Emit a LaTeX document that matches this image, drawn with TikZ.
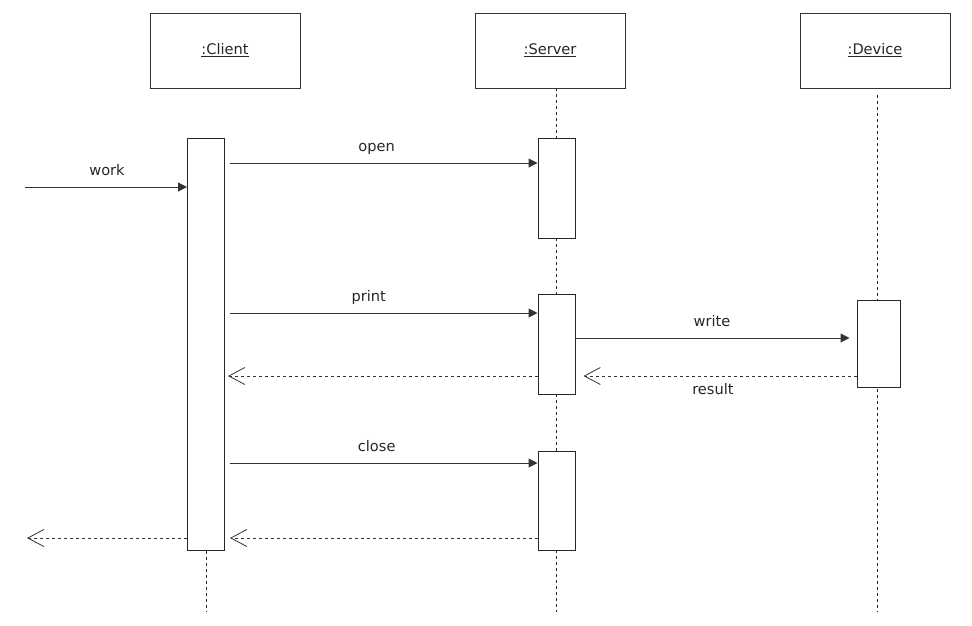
\documentclass[tikz,border=0pt]{standalone}
\usepackage{fontspec}
\setmainfont{DejaVu Sans}
\usetikzlibrary{arrows.meta}
\begin{document}
\begin{tikzpicture}[x=1pt,y=-1pt,
  every node/.style={font=\fontsize{14.6}{17}\selectfont, text=black!85},
  head/.style={draw=black!80, line width=1pt, minimum width=150pt, minimum height=75pt, inner sep=0pt},
  act/.style={draw=black!85, fill=white, line width=1pt, minimum width=37pt, inner sep=0pt},
  life/.style={draw=black!85, line width=1pt, dash pattern=on 3pt off 3pt},
  msg/.style={draw=black!80, line width=1pt, -{Triangle[length=9pt,width=9pt]}},
  ret/.style={draw=black!80, line width=1pt, dash pattern=on 3pt off 3pt, -{Straight Barb[length=16pt,width=17pt,line width=0.8pt]}},
  lab/.style={anchor=base}
]
\useasboundingbox (0,0) rectangle (972,625);
% headers
\node[head] (chead) at (225,50.5) {\underline{:Client}};
\node[head] (shead) at (550,50.5) {\underline{:Server}};
\node[head] (dhead) at (875,50.5) {\underline{:Device}};
% lifelines
\coordinate (sltop) at (556,88);
\coordinate (slbot) at (556,612);
\coordinate (dltop) at (877,95);
\coordinate (dlbot) at (877,612);
\coordinate (clbot) at (206,612);
\draw[life] (sltop) -- (slbot);
\draw[life] (dltop) -- (dlbot);
% activation bars
\node[act, minimum height=412pt] (cbar) at (206,344) {};
\node[act, minimum height=100pt] (sbar1) at (556.5,188) {};
\node[act, minimum height=100pt] (sbar2) at (556.5,344) {};
\node[act, minimum height=99pt] (sbar3) at (556.5,500.5) {};
\node[act, minimum width=43pt, minimum height=87pt] (dbar) at (878.5,343.5) {};
\draw[life] (cbar.south) -- (clbot);
% message levels
\coordinate (ywork) at (0,187);
\coordinate (yopen) at (0,163);
\coordinate (yprint) at (0,313);
\coordinate (ywrite) at (0,338);
\coordinate (yres) at (0,376);
\coordinate (yclose) at (0,463);
\coordinate (yend) at (0,538);
\coordinate (wstart) at (25,187);
\coordinate (wend) at (27,538);
% messages
\draw[msg] (wstart) -- (cbar.west |- ywork) node[lab, pos=0.506, yshift=12pt] {work};
\draw[msg] ([xshift=5pt]cbar.east |- yopen) -- (sbar1.west |- yopen) node[lab, pos=0.477, yshift=12pt] {open};
\draw[msg] ([xshift=5pt]cbar.east |- yprint) -- (sbar2.west |- yprint) node[lab, pos=0.451, yshift=12pt] {print};
\draw[msg] (sbar2.east |- ywrite) -- ([xshift=-7pt]dbar.west |- ywrite) node[lab, pos=0.498, yshift=12pt] {write};
\draw[ret] (dbar.west |- yres) -- ([xshift=8pt]sbar2.east |- yres) node[lab, pos=0.526, yshift=-18pt] {result};
\draw[ret] (sbar2.west |- yres) -- ([xshift=3pt]cbar.east |- yres);
\draw[msg] ([xshift=5pt]cbar.east |- yclose) -- (sbar3.west |- yclose) node[lab, pos=0.477, yshift=12pt] {close};
\draw[ret] (sbar3.west |- yend) -- ([xshift=5pt]cbar.east |- yend);
\draw[ret] (cbar.west |- yend) -- (wend);
\end{tikzpicture}
\end{document}
